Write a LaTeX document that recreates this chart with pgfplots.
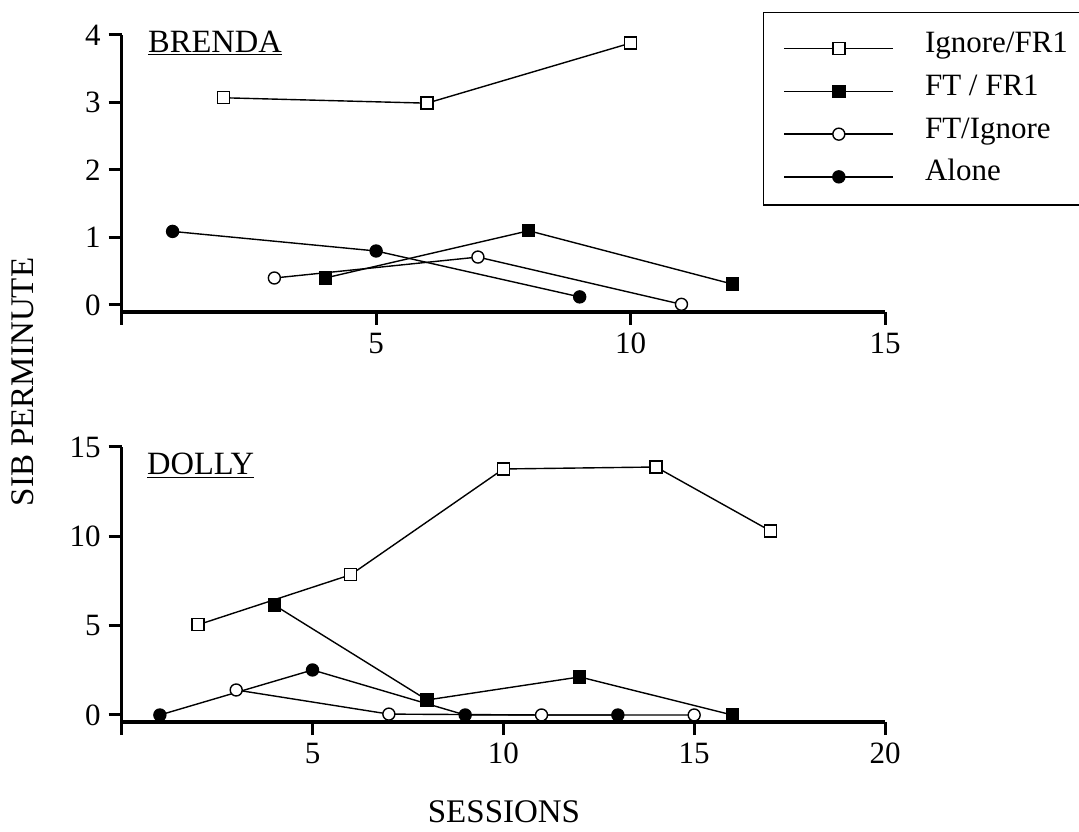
\documentclass[border=0pt]{standalone}
\usepackage{pgfplots}
\pgfplotsset{compat=1.18}
\usepackage{fontspec}
\setmainfont{Liberation Serif}
\begin{document}
\begin{tikzpicture}
\useasboundingbox (0,0) rectangle (1079bp,832bp);
\pgfplotsset{
  panel/.style={
    scale only axis,
    width=763.3bp,
    axis x line=bottom, axis y line=left,
    axis line style={-, line width=3.2bp},
    tick style={line width=3bp, black},
    tick align=outside,
    major tick length=13bp,
    /pgf/number format/assume math mode=true,
    tick label style={font=\fontsize{31bp}{35bp}\selectfont},
    yticklabel style={inner sep=0pt, xshift=-8bp},
    xticklabel style={inner sep=0pt, yshift=-8bp},
    clip=false,
  },
  ser/.style={black, line width=1.4bp, mark options={line width=1.2bp, solid}},
}
% ---------------- BRENDA ----------------
\begin{axis}[panel,
  at={(121.7bp,520bp)}, anchor=south west,
  height=277bp,
  xmin=0, xmax=15, ymin=-0.1037, ymax=4,
  xtick={0,5,10,15}, xticklabels={,5,10,15},
  ytick={0,1,2,3,4},
  legend style={at={(axis description cs:0.840,1.083)}, anchor=north west,
    draw=black, line width=1.5bp, fill=white,
    inner xsep=20bp, inner ysep=17bp, row sep=12.7bp, column sep=31bp,
    nodes={inner sep=0pt, text height=23bp, text depth=7bp,
      font=\fontsize{31bp}{35bp}\selectfont}},
  legend cell align=left,
  legend image code/.code={\draw[mark repeat=2,mark phase=2,#1]
     plot coordinates {(0bp,-4bp) (54.5bp,-4bp) (109bp,-4bp)};},
]
\addplot[ser, mark=square*, mark size=6bp, mark options={fill=white}] coordinates {(2,3.07) (6,2.99) (10,3.88)};
\addlegendentry{Ignore/FR1}
\addplot[ser, mark=square*, mark size=6bp, mark options={fill=black}] coordinates {(4,0.40) (8,1.10) (12,0.31)};
\addlegendentry{FT / FR1}
\addplot[ser, mark=*, mark size=6bp, mark options={fill=white}] coordinates {(3,0.40) (7,0.71) (11,0.01)};
\addlegendentry{FT/Ignore}
\addplot[ser, mark=*, mark size=6bp, mark options={fill=black}] coordinates {(1,1.09) (5,0.80) (9,0.12)};
\addlegendentry{Alone}
\end{axis}
% ---------------- DOLLY ----------------
\begin{axis}[panel,
  at={(121.7bp,110bp)}, anchor=south west,
  height=275bp,
  xmin=0, xmax=20, ymin=-0.392, ymax=15,
  xtick={0,5,10,15,20}, xticklabels={,5,10,15,20},
  ytick={0,5,10,15},
]
\addplot[ser, mark=square*, mark size=6bp, mark options={fill=white}] coordinates {(2,5.05) (6,7.85) (10,13.77) (14,13.88) (17,10.3)};
\addplot[ser, mark=square*, mark size=6bp, mark options={fill=black}] coordinates {(4,6.15) (8,0.84) (12,2.13) (16,0.0)};
\addplot[ser, mark=*, mark size=6bp, mark options={fill=white}] coordinates {(3,1.40) (7,0.05) (11,0.0) (15,0.0)};
\addplot[ser, mark=*, mark size=6bp, mark options={fill=black}] coordinates {(1,0.0) (5,2.52) (9,0.0) (13,0.0)};
\end{axis}
% ---------------- labels ----------------
\node[anchor=base west, inner sep=0pt, font=\fontsize{32.5bp}{36bp}\selectfont] at (148bp,779bp) {\underline{BRENDA}};
\node[anchor=base west, inner sep=0pt, font=\fontsize{32.5bp}{36bp}\selectfont] at (147bp,357bp) {\underline{DOLLY}};
\node[anchor=base, inner sep=0pt, font=\fontsize{33bp}{37bp}\selectfont] at (504bp,10bp) {SESSIONS};
\node[anchor=base, rotate=90, inner sep=0pt, font=\fontsize{33bp}{37bp}\selectfont] at (33bp,450bp) {SIB PERMINUTE};
\end{tikzpicture}
\end{document}
